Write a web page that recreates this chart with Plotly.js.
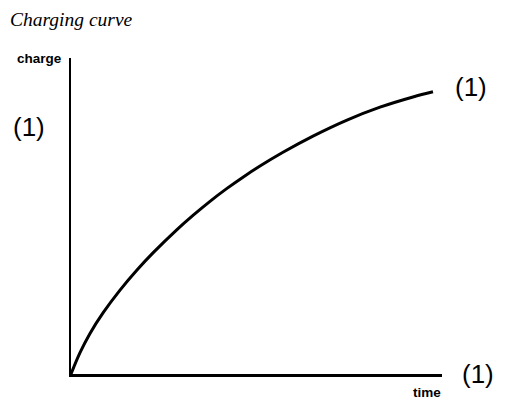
<!DOCTYPE html>
<html>
<head>
<meta charset="utf-8">
<script src="https://cdn.plot.ly/plotly-3.0.1.min.js"></script>
<style>html,body{margin:0;padding:0;background:#fff;}#chart{width:509px;height:405px;}</style>
</head>
<body>
<div id="chart"></div>
<script>
// Charging curve (arbitrary units, time 0-10, charge 0-10)
const timeValues   = [0, 0.243, 0.512, 0.863, 1.321, 1.779, 2.210, 2.857, 3.288, 3.747, 4.205, 4.636, 5.094, 5.714, 6.523, 7.439, 8.329, 9.218, 9.757];
const chargeValues = [0, 0.677, 1.285, 1.934, 2.655, 3.291, 3.832, 4.570, 5.019, 5.465, 5.873, 6.228, 6.579, 7.016, 7.528, 8.035, 8.443, 8.766, 8.930];
const titleText = "Charging curve";
const yLabel = "charge";
const xLabel = "time";
const markLabel = "(1)";

const W = 509, H = 405;
const L = 71, R = 442, T = 58, B = 374;
const px = x => (x - L) / (R - L);
const py = y => (B - y) / (B - T);

const trace = {
  x: timeValues, y: chargeValues, type: 'scatter', mode: 'lines',
  line: {color: '#000', width: 3, shape: 'spline', smoothing: 1},
  hoverinfo: 'skip', cliponaxis: false
};

const layout = {
  width: W, height: H,
  margin: {l: L, r: W - R, t: T, b: H - B, pad: 0},
  paper_bgcolor: '#fff', plot_bgcolor: '#fff',
  showlegend: false,
  title: {text: '<i>' + titleText + '</i>', x: 10 / W, xanchor: 'left', xref: 'container',
          y: 1 - 19 / H, yanchor: 'middle', yref: 'container',
          font: {family: 'Liberation Serif, serif', size: 19.5, color: '#000'}},
  xaxis: {range: [0, 10], showline: true, linecolor: '#000', linewidth: 2.5, showgrid: false,
          zeroline: false, showticklabels: false, ticks: '', fixedrange: true},
  yaxis: {range: [0, 10], showline: true, linecolor: '#000', linewidth: 2.5, showgrid: false,
          zeroline: false, showticklabels: false, ticks: '', fixedrange: true},
  annotations: [
    {text: '<b>' + yLabel + '</b>', xref: 'paper', yref: 'paper', x: px(64), y: py(58),
     xanchor: 'right', yanchor: 'middle', showarrow: false,
     font: {family: 'Liberation Sans, Arial, sans-serif', size: 13.5, color: '#000'}},
    {text: '<b>' + xLabel + '</b>', xref: 'paper', yref: 'paper', x: px(443), y: py(392),
     xanchor: 'right', yanchor: 'middle', showarrow: false,
     font: {family: 'Liberation Sans, Arial, sans-serif', size: 13.5, color: '#000'}},
    {text: markLabel, xref: 'paper', yref: 'paper', x: px(453), y: py(87),
     xanchor: 'left', yanchor: 'middle', showarrow: false,
     font: {family: 'Liberation Sans, Arial, sans-serif', size: 26, color: '#000'}},
    {text: markLabel, xref: 'paper', yref: 'paper', x: px(11), y: py(127),
     xanchor: 'left', yanchor: 'middle', showarrow: false,
     font: {family: 'Liberation Sans, Arial, sans-serif', size: 26, color: '#000'}},
    {text: markLabel, xref: 'paper', yref: 'paper', x: px(460), y: py(374),
     xanchor: 'left', yanchor: 'middle', showarrow: false,
     font: {family: 'Liberation Sans, Arial, sans-serif', size: 26, color: '#000'}}
  ]
};

Plotly.newPlot('chart', [trace], layout, {displayModeBar: false, staticPlot: true});
</script>
</body>
</html>
